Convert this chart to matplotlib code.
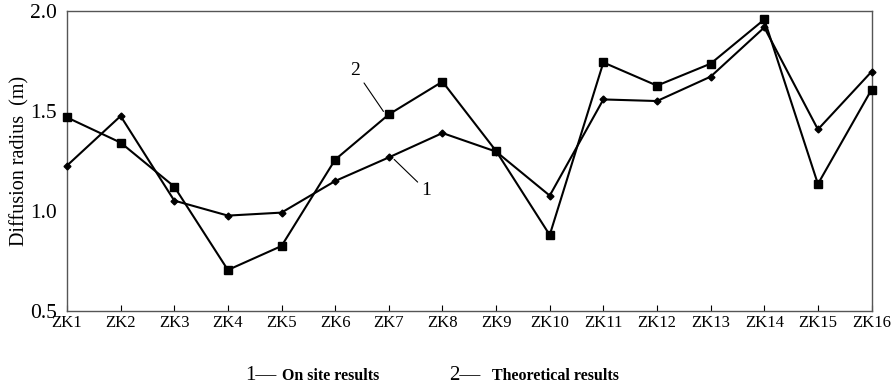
import matplotlib
matplotlib.use("Agg")
import matplotlib.pyplot as plt
import numpy as np

boreholes = [f"ZK{i}" for i in range(1, 17)]
on_site = [1.227, 1.475, 1.052, 0.977, 0.992, 1.150, 1.268, 1.390,
           1.297, 1.077, 1.558, 1.550, 1.672, 1.918, 1.408, 1.697]
theoretical = [1.468, 1.342, 1.122, 0.705, 0.825, 1.257, 1.483, 1.647,
               1.300, 0.880, 1.743, 1.627, 1.737, 1.958, 1.135, 1.607]
yticks = [0.5, 1.0, 1.5, 2.0]

plt.rcParams["font.family"] = ["Liberation Serif", "DejaVu Serif"]

fig = plt.figure(figsize=(8.93, 3.88), dpi=100)
ax = fig.add_axes([0.075, 0.1985, 0.901, 0.773])
x = np.arange(len(boreholes))

ax.plot(x, on_site, color="black", lw=1.5, marker="D", ms=3.5,
        clip_on=False, zorder=3)
ax.plot(x, theoretical, color="black", lw=1.5, marker="s", ms=5.5,
        clip_on=False, zorder=3)

ax.set_xlim(0, 15)
ax.set_ylim(0.5, 2.0)
ax.set_xticks(x)
ax.set_xticklabels(boreholes, fontsize=12)
ax.set_yticks(yticks)
ax.set_yticklabels([f"{v:.1f}" for v in yticks], fontsize=15.5)
ax.tick_params(axis="x", direction="in", length=4, pad=3)
ax.tick_params(axis="y", length=0, pad=7)
ax.set_ylabel("Diffusion radius  (m)", fontsize=14.5, labelpad=1)
for s in ax.spines.values():
    s.set_color("#555555")
    s.set_linewidth(1.0)

# leader labels
ax.annotate("2", xy=(6 - 0.1, theoretical[6] + 0.015),
            xytext=(5.38, 1.66), fontsize=14, ha="center", va="bottom",
            arrowprops=dict(arrowstyle="-", color="black", lw=0.8,
                            shrinkA=1, shrinkB=0))
ax.annotate("1", xy=(6 + 0.1, on_site[6] - 0.01),
            xytext=(6.7, 1.06), fontsize=14, ha="center", va="bottom",
            arrowprops=dict(arrowstyle="-", color="black", lw=0.8,
                            shrinkA=1, shrinkB=0))

# legend as text
y_leg = 1 - 380 / 388
fig.text(245 / 893, y_leg, "1\u2014", fontsize=15, ha="left", va="baseline")
fig.text(282 / 893, y_leg, "On site results", fontsize=11.5,
         ha="left", va="baseline", fontweight="semibold")
fig.text(449 / 893, y_leg, "2\u2014", fontsize=15, ha="left", va="baseline")
fig.text(492 / 893, y_leg, "Theoretical results", fontsize=11.5,
         ha="left", va="baseline", fontweight="semibold")

fig.savefig("out.png", dpi=100)
